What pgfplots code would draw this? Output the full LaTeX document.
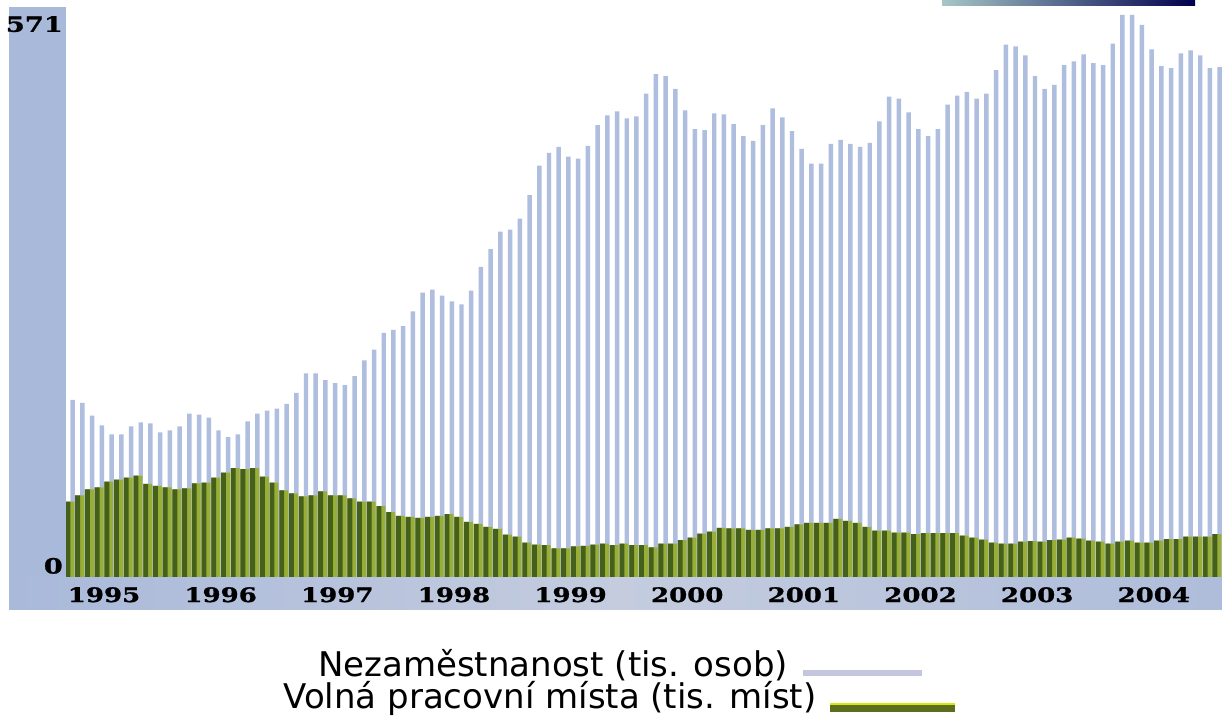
\documentclass[border=0pt]{standalone}
\usepackage{fontspec}
\usepackage{pgfplots}
\usepackage{pgfplotstable}
\pgfplotsset{compat=1.18}
\newfontfamily\legfont{DejaVu Sans}
\newfontfamily\yearfont[FakeStretch=1.3,BoldFeatures={FakeBold=1.2}]{DejaVu Serif}

\definecolor{lav}{HTML}{AFBEDF}
\definecolor{dkgreen}{HTML}{44601A}
\definecolor{ltgreen}{HTML}{98AE36}
\definecolor{band}{HTML}{A9B9DA}
\definecolor{bandlt}{HTML}{C4CCDE}
\definecolor{swlav}{HTML}{C3C6DC}
\definecolor{swgreen}{HTML}{5C6E1E}

% monthly data, Jan 1995 = 0
% u = Nezamestnanost (tis. osob), v = volna mista (tis. mist)
\pgfplotstableread{
x u v
0 180 76.5
1 177 83
2 164 89
3 154 91
4 145 97
5 145 99
6 153 101
7 157 103
8 156 94.5
9 147 92.5
10 149 91
11 153 89
12 166 90
13 165 95
14 162 96
15 149 101
16 142 106
17 145 110.5
18 158 109.5
19 166 110.5
20 169 102
21 171 96
22 176 88
23 187 85
24 207 82
25 207 83
26 200 87
27 197 83
28 195 83
29 204 80
30 220 76.5
31 231 76.5
32 248 72
33 251 66
34 255 62
35 270 61
36 289 60
37 292 61
38 286 62
39 280 64
40 277 61
41 291 56
42 315 54
43 333 51
44 351 49
45 353 43
46 364 41
47 388 35
48 418 33
49 431 32.5
50 437 29
51 427 29
52 425 31
53 438 31.5
54 459 33
55 469 34
56 473 32.5
57 466 34
58 468 32.5
59 491 32.5
60 511 30
61 509 34
62 496 34
63 474 37.5
64 455 40
65 454 44
66 471 46
67 470 50
68 460 49.5
69 448 49.5
70 443 48
71 459 48
72 476 49.5
73 467 49.5
74 453 51
75 435 53.5
76 420 55
77 420 55
78 440 55
79 444 59
80 440 57
81 437 55
82 441 51
83 463 47
84 488 47
85 486 45
86 472 45
87 455 43.5
88 448 44.5
89 455 44.5
90 480 44.5
91 489 44.5
92 493 42
93 486 40
94 491 38
95 515 35
96 541 34
97 539 34
98 530 36
99 509 36.5
100 496 36
101 500 37.5
102 520 38
103 524 40
104 531 39
105 522 37
106 520 36
107 542 34
108 571 36
109 571 37
110 561 35
111 536 35
112 519 37
113 517 38.5
114 532 38.5
115 535 41
116 530 41
117 517 41
118 518 43.5
}\data

\begin{document}
\begin{tikzpicture}
\useasboundingbox (0,0) rectangle (1222bp,717bp);
\fill[white] (0,0) rectangle (1222bp,717bp);
% frame bands
\fill[band] (9bp,107bp) rectangle (66bp,710bp);
\shade[left color=band, right color=bandlt] (9bp,107bp) rectangle (620bp,140bp);
\shade[left color=bandlt, right color=band!80!bandlt] (620bp,107bp) rectangle (1222bp,140bp);
\shade[left color=black!25!teal!35!white, right color=blue!30!black] (942bp,711bp) rectangle (1195bp,717bp);

\begin{axis}[
  at={(66bp,140bp)}, anchor=south west,
  scale only axis, width=1156bp, height=562bp,
  xmin=-0.69, xmax=118.24, ymin=0, ymax=571,
  axis line style={draw=none},
  major tick length=0pt,
  xtick={3.22,15.22,27.22,39.22,51.22,63.22,75.22,87.22,99.22,111.22},
  xticklabels={1995,1996,1997,1998,1999,2000,2001,2002,2003,2004},
  xticklabel style={font=\yearfont\bfseries\fontsize{20bp}{20bp}\selectfont,
    anchor=north, inner sep=0pt, yshift=-10bp},
  ytick={571}, yticklabels={571},
  yticklabel style={font=\yearfont\bfseries\fontsize{21bp}{21bp}\selectfont,
    anchor=north east, inner sep=0pt, xshift=-3bp, yshift=-1bp},
  extra y ticks={0}, extra y tick labels={0},
  extra y tick style={yticklabel style={anchor=south east, yshift=4bp}},
]
\addplot[ybar, bar width=0.46, bar shift=0, fill=lav, draw=none] table[x=x,y=u]{\data};
\addplot[ybar, bar width=0.92, bar shift=-0.29, fill=ltgreen, draw=none] table[x=x,y=v]{\data};
\addplot[ybar, bar width=0.5, bar shift=-0.49, fill=dkgreen, draw=none] table[x=x,y=v]{\data};
\end{axis}

% legend
\node[font=\legfont\fontsize{34bp}{34bp}\selectfont, anchor=base, inner sep=0pt]
  at (553bp,40bp) {Nezaměstnanost (tis. osob)};
\fill[swlav] (803bp,41bp) rectangle (922bp,47bp);
\node[font=\legfont\fontsize{34bp}{34bp}\selectfont, anchor=base, inner sep=0pt]
  at (550bp,9bp) {Volná pracovní místa (tis. míst)};
\fill[swgreen] (830bp,5bp) rectangle (955bp,13bp);
\fill[yellow!85!green] (830bp,12bp) rectangle (955bp,14bp);
\end{tikzpicture}
\end{document}
